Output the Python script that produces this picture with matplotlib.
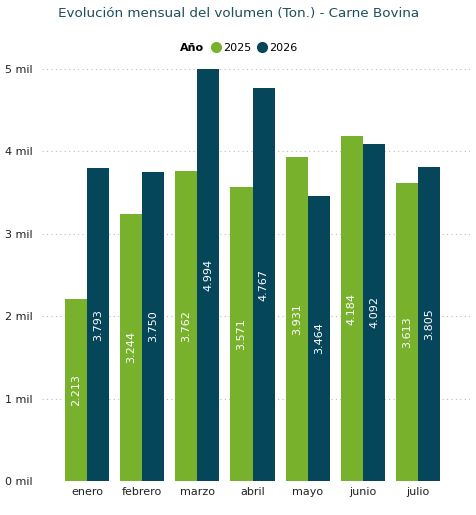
import numpy as np
import matplotlib.pyplot as plt
from matplotlib.lines import Line2D
from matplotlib.offsetbox import HPacker

meses = ["enero", "febrero", "marzo", "abril", "mayo", "junio", "julio"]
v2025 = [2213, 3244, 3762, 3571, 3931, 4184, 3613]
v2026 = [3793, 3750, 4994, 4767, 3464, 4092, 3805]
yticks = [0, 1000, 2000, 3000, 4000, 5000]

verde = "#78b22d"
azul = "#06465a"

def fmt(v):
    return f"{v:,}".replace(",", ".")

fig = plt.figure(figsize=(4.77, 5.15), dpi=100)
ax = fig.add_axes([42 / 477, 1 - 481 / 515, (470 - 42) / 477, (481 - 60) / 515])

x = np.arange(len(meses))
w = 0.4
b1 = ax.bar(x - w / 2, v2025, w, color=verde)
b2 = ax.bar(x + w / 2, v2026, w, color=azul)

# etiquetas de valor, centradas y giradas
for bars, vals in [(b1, v2025), (b2, v2026)]:
    for b, v in zip(bars, vals):
        ax.text(b.get_x() + b.get_width() / 2, v / 2, fmt(v), rotation=90,
                ha="center", va="center", color="white", fontsize=8)

ax.set_xlim(-0.815, 6.94)
ax.set_ylim(0, 5000 * (481 - 60) / 412)
ax.set_yticks(yticks)
ax.set_yticklabels([f"{t // 1000} mil" for t in yticks])
ax.set_xticks(x)
ax.set_xticklabels(meses)
ax.tick_params(length=0, labelsize=8, colors="#222222")
ax.tick_params(axis="y", pad=7)
ax.tick_params(axis="x", pad=4)
ax.grid(axis="y", linestyle=(0, (1, 3)), color="#bdbdbd", linewidth=0.8)
ax.set_axisbelow(True)
for s in ax.spines.values():
    s.set_visible(False)

fig.text(0.5, 1 - 14 / 515, "Evolución mensual del volumen (Ton.) - Carne Bovina",
         ha="center", va="center", fontsize=9.7, color="#1f4e5f")

handles = [Line2D([], [], marker="o", linestyle="", color=verde, markersize=7),
           Line2D([], [], marker="o", linestyle="", color=azul, markersize=7)]
leg = fig.legend(handles, ["2025", "2026"], title="Año", loc="center",
                 bbox_to_anchor=(0.5, 1 - 48 / 515), ncol=2, frameon=False,
                 fontsize=8, title_fontproperties={"weight": "bold", "size": 8},
                 handletextpad=0.0, columnspacing=0.4, handlelength=1.2)
# titulo de la leyenda en la misma fila
title_box = leg._legend_title_box
content = leg._legend_box._children[1]
leg._legend_box._children = [HPacker(pad=0, sep=4, children=[title_box, content], align="center")]

fig.savefig("out.png", dpi=100)
